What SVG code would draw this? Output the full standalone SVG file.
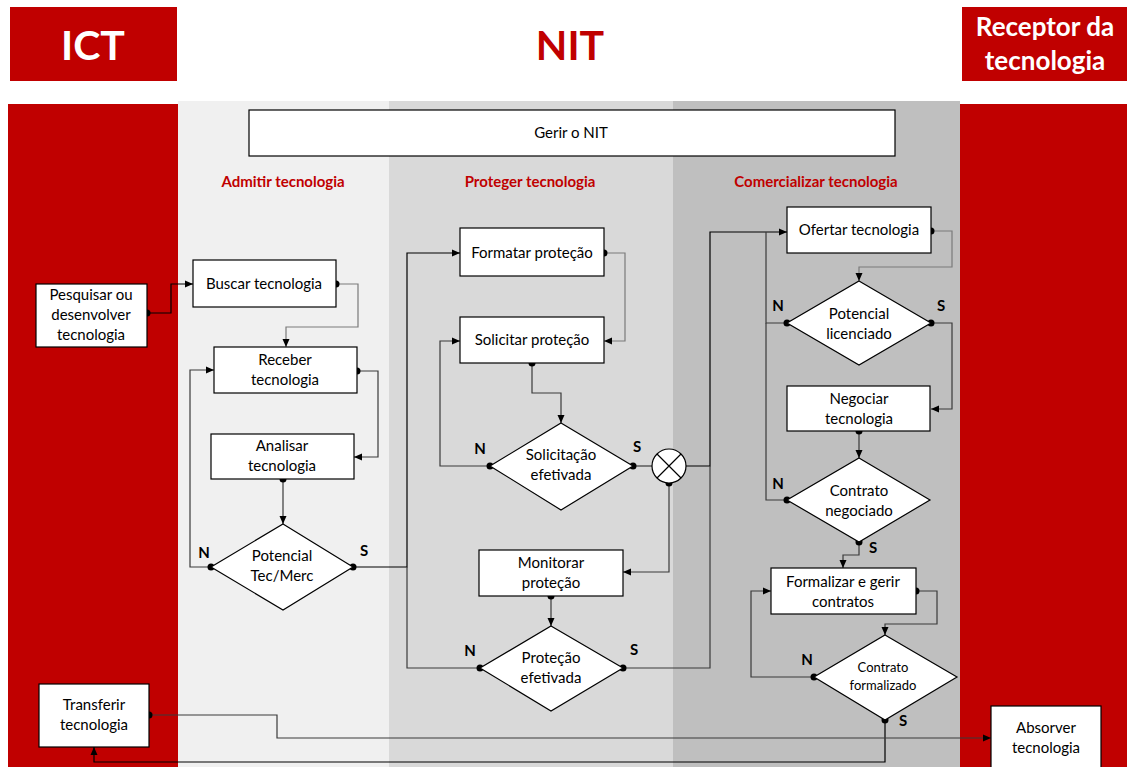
<svg xmlns="http://www.w3.org/2000/svg" width="1127" height="767" viewBox="0 0 1127 767">
<style>
.box{fill:#fff;stroke:#000;stroke-width:1.2}
.t{font-family:Lato,"Liberation Sans",sans-serif;font-size:15px;fill:#000;text-anchor:middle}
.ts{font-family:Lato,"Liberation Sans",sans-serif;font-size:13px;fill:#000;text-anchor:middle}
.yn{font-family:Lato,"Liberation Sans",sans-serif;font-size:15px;font-weight:bold;fill:#000;text-anchor:middle}
.lane{font-family:Lato,"Liberation Sans",sans-serif;font-size:15px;font-weight:bold;fill:#c00000;text-anchor:middle}
.hd{font-family:Lato,"Liberation Sans",sans-serif;font-weight:bold;text-anchor:middle}
.c{fill:none;stroke:#3a3a3a;stroke-width:1.2}
.g{fill:none;stroke:#7a7a7a;stroke-width:1.2}
.k{fill:none;stroke:#000;stroke-width:1.2}
.a{marker-end:url(#arr)}
.dot{fill:#000}
</style>
<defs>
<marker id="arr" markerUnits="userSpaceOnUse" markerWidth="8" markerHeight="8" refX="8" refY="4" orient="auto"><path d="M0,0.5 L8,4 L0,7.5 z" fill="#000"/></marker>
</defs>

<!-- header -->
<g id="hdr-ict"><rect x="10" y="7" width="167" height="74" fill="#c00000"/><text class="hd" x="93" y="60" font-size="41" fill="#fff">ICT</text></g>
<g id="hdr-nit"><text class="hd" x="570" y="60" font-size="41" fill="#c00000">NIT</text></g>
<g id="hdr-rec"><rect x="962" y="7" width="165" height="74" fill="#c00000"/><text class="hd" x="1045" y="36" font-size="26" fill="#fff">Receptor da</text><text class="hd" x="1045" y="70" font-size="26" fill="#fff">tecnologia</text></g>

<!-- lanes -->
<rect x="8" y="104" width="170" height="663" fill="#c00000"/>
<rect x="178" y="101" width="211" height="666" fill="#f0f0f0"/>
<rect x="389" y="101" width="284" height="666" fill="#d9d9d9"/>
<rect x="673" y="101" width="287" height="666" fill="#bfbfbf"/>
<rect x="960" y="104" width="167" height="663" fill="#c00000"/>

<g id="gerir"><rect class="box" x="249" y="110" width="646" height="46"/><text class="t" x="571" y="138">Gerir o NIT</text></g>
<text class="lane" x="283" y="187">Admitir tecnologia</text>
<text class="lane" x="530" y="187">Proteger tecnologia</text>
<text class="lane" x="816" y="187">Comercializar tecnologia</text>

<!-- connectors -->
<g id="connectors">
<path class="k a" d="M147,313 H171 V284 H193"/>
<path class="g a" d="M336,284 H358 V327 H286 V347"/>
<path class="c a" d="M357,371 H378 V457 H354"/>
<path class="c a" d="M283,479 V524"/>
<path class="c a" d="M211,567 H190 V370 H214"/>
<path class="k a" d="M353,567 H407 V253 H460"/>
<path class="g a" d="M604,253 H625 V341 H604"/>
<path class="c a" d="M532,363 V393 H561 V423"/>
<path class="c a" d="M490,466 H440 V341 H460"/>
<path class="c" d="M633,466 H652"/>
<path class="k a" d="M686,466 H710 V232 H787"/>
<path class="c a" d="M669,483 V572 H623"/>
<path class="c a" d="M551,596 V626"/>
<path class="c" d="M480,668 H407 V567"/>
<path class="c" d="M623,668 H710 V466"/>
<path class="g a" d="M931,231 H952 V267 H859 V281"/>
<path class="c" d="M787,323 H766 V232"/>
<path class="c a" d="M931,323 H952 V409 H931"/>
<path class="c a" d="M859,431 V458"/>
<path class="c" d="M787,500 H766 V323"/>
<path class="c a" d="M859,542 V555 H843 V568"/>
<path class="c a" d="M916,591 H937 V624 H885 V635"/>
<path class="c a" d="M814,677 H751 V591 H771"/>
<path class="k a" d="M885,720 V762 H94 V747"/>
<path class="c a" d="M149,715 H277 V738 H991"/>
<g class="dot">
<circle cx="147" cy="313" r="3.5"/><circle cx="336" cy="284" r="3.5"/><circle cx="357" cy="371" r="3.5"/><circle cx="283" cy="479" r="3.5"/>
<circle cx="211" cy="567" r="3.5"/><circle cx="353" cy="567" r="3.5"/><circle cx="604" cy="253" r="3.5"/><circle cx="532" cy="363" r="3.5"/>
<circle cx="490" cy="466" r="3.5"/><circle cx="633" cy="466" r="3.5"/><circle cx="669" cy="483" r="3.5"/><circle cx="551" cy="596" r="3.5"/>
<circle cx="480" cy="668" r="3.5"/><circle cx="623" cy="668" r="3.5"/><circle cx="931" cy="231" r="3.5"/><circle cx="787" cy="323" r="3.5"/>
<circle cx="931" cy="323" r="3.5"/><circle cx="859" cy="431" r="3.5"/><circle cx="787" cy="500" r="3.5"/><circle cx="859" cy="542" r="3.5"/>
<circle cx="916" cy="591" r="3.5"/><circle cx="814" cy="677" r="3.5"/><circle cx="885" cy="720" r="3.5"/><circle cx="149" cy="715" r="3.5"/>
</g>
</g>

<!-- nodes -->
<g id="pesquisar"><rect class="box" x="36" y="284" width="111" height="63"/><text class="t" x="91" y="300">Pesquisar ou</text><text class="t" x="91" y="320">desenvolver</text><text class="t" x="91" y="340">tecnologia</text></g>
<g id="buscar"><rect class="box" x="193" y="260" width="143" height="47"/><text class="t" x="264" y="289">Buscar tecnologia</text></g>
<g id="receber"><rect class="box" x="214" y="347" width="143" height="46"/><text class="t" x="285" y="365">Receber</text><text class="t" x="285" y="385">tecnologia</text></g>
<g id="analisar"><rect class="box" x="211" y="434" width="143" height="45"/><text class="t" x="282" y="451">Analisar</text><text class="t" x="282" y="471">tecnologia</text></g>
<g id="potencial-tec"><path class="box" d="M283,524 L353,567 L283,610 L211,567 Z"/><text class="t" x="282" y="561">Potencial</text><text class="t" x="282" y="581">Tec/Merc</text><text class="yn" x="204" y="558">N</text><text class="yn" x="364" y="556">S</text></g>

<g id="formatar"><rect class="box" x="460" y="228" width="144" height="48"/><text class="t" x="532" y="258">Formatar proteção</text></g>
<g id="solicitar"><rect class="box" x="460" y="317" width="144" height="46"/><text class="t" x="532" y="345">Solicitar proteção</text></g>
<g id="solicitacao"><path class="box" d="M561,423 L633,466 L561,510 L490,466 Z"/><text class="t" x="561" y="460">Solicitação</text><text class="t" x="561" y="480">efetivada</text><text class="yn" x="480" y="454">N</text><text class="yn" x="637" y="452">S</text></g>
<g id="juncao"><circle cx="669" cy="466" r="17" fill="#fff" stroke="#000" stroke-width="1.2"/><path d="M657,454 L681,478 M681,454 L657,478" stroke="#000" stroke-width="1.2"/></g>
<g id="monitorar"><rect class="box" x="479" y="550" width="144" height="46"/><text class="t" x="551" y="568">Monitorar</text><text class="t" x="551" y="588">proteção</text></g>
<g id="protecao"><path class="box" d="M551,626 L623,668 L551,711 L480,668 Z"/><text class="t" x="551" y="663">Proteção</text><text class="t" x="551" y="683">efetivada</text><text class="yn" x="470" y="656">N</text><text class="yn" x="634" y="655">S</text></g>

<g id="ofertar"><rect class="box" x="787" y="207" width="144" height="46"/><text class="t" x="859" y="235">Ofertar tecnologia</text></g>
<g id="potencial-lic"><path class="box" d="M859,281 L931,323 L859,365 L787,323 Z"/><text class="t" x="859" y="319">Potencial</text><text class="t" x="859" y="339">licenciado</text><text class="yn" x="778" y="311">N</text><text class="yn" x="941" y="311">S</text></g>
<g id="negociar"><rect class="box" x="787" y="386" width="143" height="45"/><text class="t" x="859" y="404">Negociar</text><text class="t" x="859" y="424">tecnologia</text></g>
<g id="contrato-neg"><path class="box" d="M859,458 L930,500 L859,542 L787,500 Z"/><text class="t" x="859" y="496">Contrato</text><text class="t" x="859" y="516">negociado</text><text class="yn" x="778" y="489">N</text><text class="yn" x="873" y="553">S</text></g>
<g id="formalizar"><rect class="box" x="771" y="568" width="145" height="46"/><text class="t" x="843" y="587">Formalizar e gerir</text><text class="t" x="843" y="607">contratos</text></g>
<g id="contrato-form"><path class="box" d="M885,635 L957,677 L885,720 L814,677 Z"/><text class="ts" x="883" y="672">Contrato</text><text class="ts" x="883" y="690">formalizado</text><text class="yn" x="807" y="665">N</text><text class="yn" x="903" y="726">S</text></g>

<g id="transferir"><rect class="box" x="39" y="684" width="110" height="63"/><text class="t" x="94" y="710">Transferir</text><text class="t" x="94" y="730">tecnologia</text></g>
<g id="absorver"><rect class="box" x="991" y="706" width="110" height="62"/><text class="t" x="1046" y="733">Absorver</text><text class="t" x="1046" y="753">tecnologia</text></g>
</svg>
